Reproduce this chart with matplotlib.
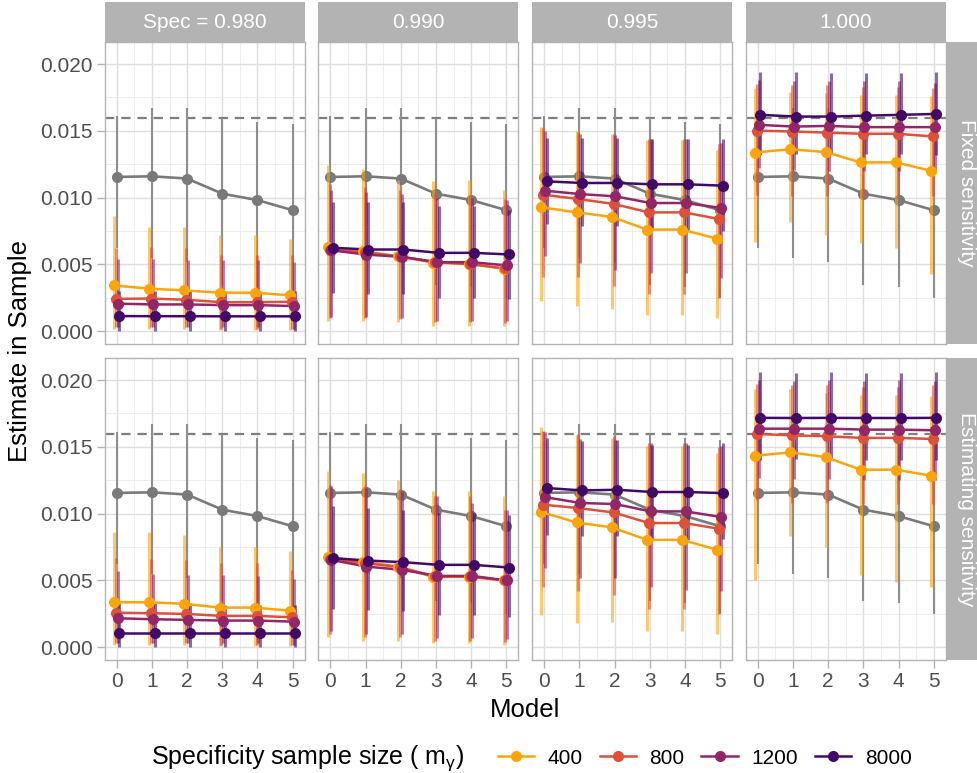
import matplotlib
matplotlib.use("Agg")
import matplotlib.pyplot as plt
from matplotlib.lines import Line2D
from matplotlib.ticker import MultipleLocator, FormatStrFormatter
import numpy as np

plt.rcParams['font.family'] = ['Liberation Sans', 'DejaVu Sans']
plt.rcParams['mathtext.fontset'] = 'custom'
plt.rcParams['mathtext.rm'] = 'Liberation Sans'
plt.rcParams['mathtext.it'] = 'Liberation Sans:italic'
plt.rcParams['mathtext.sf'] = 'Liberation Sans'

# ---------------------------------------------------------------- data
models = [0, 1, 2, 3, 4, 5]
sample_sizes = ['400', '800', '1200', '8000']
spec_labels = ['Spec = 0.980', '0.990', '0.995', '1.000']
row_labels = ['Fixed sensitivity', 'Estimating sensitivity']
target_prevalence = 0.016

# reference estimate (same in every panel)
ref_est = [0.01155, 0.01160, 0.01143, 0.01030, 0.00982, 0.00906]
ref_lo = [0.0062, 0.0055, 0.0052, 0.0035, 0.0033, 0.0025]
ref_hi = [0.0161, 0.0167, 0.0167, 0.0160, 0.0157, 0.0155]

# rows: sample size 400, 800, 1200, 8000 ; columns: model 0..5
# --- fixed sensitivity
est_fixed_0980 = [[0.00343, 0.00319, 0.00306, 0.00289, 0.00289, 0.00269],
                  [0.00243, 0.00245, 0.00236, 0.00218, 0.00218, 0.00221],
                  [0.00207, 0.00201, 0.00201, 0.00196, 0.00196, 0.00189],
                  [0.00114, 0.00113, 0.00113, 0.00112, 0.00112, 0.00112]]
lo_fixed_0980 = [[0.0002, 0.0002, 0.0002, 0.0001, 0.0001, 0.0001],
                 [0.0003, 0.0003, 0.0003, 0.0002, 0.0002, 0.0002],
                 [0.0003, 0.0003, 0.0003, 0.0003, 0.0003, 0.0002],
                 [0.0000, 0.0000, 0.0000, 0.0000, 0.0000, 0.0000]]
hi_fixed_0980 = [[0.0086, 0.0078, 0.0078, 0.0072, 0.0072, 0.0069],
                 [0.0062, 0.0063, 0.0062, 0.0057, 0.0057, 0.0057],
                 [0.0054, 0.0054, 0.0053, 0.0053, 0.0053, 0.0052],
                 [0.0030, 0.0030, 0.0030, 0.0030, 0.0030, 0.0030]]

est_fixed_0990 = [[0.00632, 0.00600, 0.00562, 0.00513, 0.00507, 0.00468],
                  [0.00612, 0.00590, 0.00560, 0.00518, 0.00502, 0.00470],
                  [0.00606, 0.00574, 0.00557, 0.00517, 0.00517, 0.00493],
                  [0.00625, 0.00612, 0.00612, 0.00587, 0.00587, 0.00575]]
lo_fixed_0990 = [[0.0008, 0.0008, 0.0007, 0.0004, 0.0004, 0.0004],
                 [0.0010, 0.0010, 0.0009, 0.0007, 0.0007, 0.0006],
                 [0.0011, 0.0011, 0.0010, 0.0008, 0.0008, 0.0008],
                 [0.0029, 0.0028, 0.0028, 0.0025, 0.0025, 0.0024]]
hi_fixed_0990 = [[0.01246, 0.01214, 0.01134, 0.01122, 0.01129, 0.01060],
                 [0.0110, 0.0108, 0.0106, 0.0103, 0.0102, 0.0099],
                 [0.0106, 0.0104, 0.0103, 0.0100, 0.0100, 0.0098],
                 [0.0097, 0.0097, 0.0097, 0.0094, 0.0094, 0.0091]]

est_fixed_0995 = [[0.00928, 0.00890, 0.00856, 0.00761, 0.00761, 0.00692],
                  [0.01022, 0.00990, 0.00953, 0.00890, 0.00890, 0.00840],
                  [0.01052, 0.01027, 0.01010, 0.00960, 0.00960, 0.00923],
                  [0.01122, 0.01110, 0.01110, 0.01100, 0.01100, 0.01090]]
lo_fixed_0995 = [[0.00226, 0.00189, 0.00169, 0.00119, 0.00119, 0.00102],
                 [0.0041, 0.0041, 0.0034, 0.0028, 0.0028, 0.0025],
                 [0.0056, 0.0051, 0.0046, 0.0044, 0.0044, 0.0040],
                 [0.0080, 0.0079, 0.0079, 0.0076, 0.0076, 0.0075]]
hi_fixed_0995 = [[0.01528, 0.01502, 0.01478, 0.01428, 0.01428, 0.01358],
                 [0.0152, 0.0149, 0.0148, 0.0144, 0.0144, 0.0140],
                 [0.0150, 0.0148, 0.0147, 0.0144, 0.0144, 0.0141],
                 [0.01445, 0.01445, 0.01445, 0.0144, 0.0144, 0.0144]]

est_fixed_1000 = [[0.01338, 0.01363, 0.01341, 0.01264, 0.01264, 0.01201],
                  [0.01502, 0.01495, 0.01487, 0.01478, 0.01478, 0.01458],
                  [0.01545, 0.01532, 0.01537, 0.01528, 0.01528, 0.01528],
                  [0.01620, 0.01607, 0.01607, 0.01614, 0.01620, 0.01627]]
lo_fixed_1000 = [[0.0067, 0.0082, 0.0072, 0.0066, 0.0062, 0.0043],
                 [0.0102, 0.0101, 0.0101, 0.0100, 0.0100, 0.0101],
                 [0.0122, 0.0121, 0.0120, 0.0120, 0.0120, 0.0120],
                 [0.0132, 0.0133, 0.0133, 0.0133, 0.0133, 0.0132]]
hi_fixed_1000 = [[0.0182, 0.0179, 0.0178, 0.0177, 0.0177, 0.0176],
                 [0.0185, 0.0184, 0.0184, 0.0183, 0.0183, 0.0182],
                 [0.0188, 0.0187, 0.0187, 0.0187, 0.0187, 0.0186],
                 [0.0194, 0.0194, 0.0193, 0.0193, 0.0193, 0.0194]]

# --- estimating sensitivity
est_estim_0980 = [[0.00337, 0.00337, 0.00325, 0.00297, 0.00297, 0.00274],
                  [0.00259, 0.00255, 0.00250, 0.00235, 0.00235, 0.00225],
                  [0.00217, 0.00210, 0.00205, 0.00200, 0.00200, 0.00192],
                  [0.00110, 0.00110, 0.00110, 0.00110, 0.00110, 0.00110]]
lo_estim_0980 = [[0.0002, 0.0002, 0.0002, 0.0001, 0.0001, 0.0001],
                 [0.0003, 0.0003, 0.0003, 0.0002, 0.0002, 0.0002],
                 [0.0003, 0.0003, 0.0003, 0.0003, 0.0003, 0.0002],
                 [0.0000, 0.0000, 0.0000, 0.0000, 0.0000, 0.0000]]
hi_estim_0980 = [[0.0086, 0.0086, 0.0084, 0.0075, 0.0075, 0.0072],
                 [0.0067, 0.0066, 0.0065, 0.0063, 0.0063, 0.0058],
                 [0.0057, 0.0055, 0.0054, 0.0054, 0.0053, 0.0051],
                 [0.0033, 0.0033, 0.0033, 0.0032, 0.0032, 0.0032]]

est_estim_0990 = [[0.00675, 0.00642, 0.00604, 0.00525, 0.00529, 0.00500],
                  [0.00660, 0.00630, 0.00600, 0.00530, 0.00530, 0.00500],
                  [0.00654, 0.00604, 0.00580, 0.00534, 0.00534, 0.00500],
                  [0.00667, 0.00649, 0.00637, 0.00617, 0.00617, 0.00597]]
lo_estim_0990 = [[0.0008, 0.0005, 0.0005, 0.0003, 0.0003, 0.0002],
                 [0.0010, 0.0008, 0.0008, 0.0005, 0.0005, 0.0004],
                 [0.0012, 0.0010, 0.0010, 0.0007, 0.0007, 0.0006],
                 [0.0029, 0.0028, 0.0027, 0.0024, 0.0024, 0.0023]]
hi_estim_0990 = [[0.01316, 0.01304, 0.01254, 0.01166, 0.01166, 0.01134],
                 [0.01217, 0.01204, 0.01184, 0.01129, 0.01129, 0.01030],
                 [0.0121, 0.0119, 0.0117, 0.0113, 0.0108, 0.0103],
                 [0.01054, 0.01042, 0.01024, 0.01004, 0.01004, 0.00992]]

est_estim_0995 = [[0.01012, 0.00934, 0.00897, 0.00804, 0.00804, 0.00729],
                  [0.01067, 0.01042, 0.01009, 0.00930, 0.00930, 0.00887],
                  [0.01124, 0.01080, 0.01072, 0.01017, 0.01017, 0.00975],
                  [0.01192, 0.01174, 0.01179, 0.01162, 0.01162, 0.01154]]
lo_estim_0995 = [[0.0024, 0.0018, 0.0019, 0.0012, 0.0012, 0.0010],
                 [0.0045, 0.0042, 0.0039, 0.0029, 0.0029, 0.0025],
                 [0.0059, 0.0052, 0.0052, 0.0045, 0.0043, 0.0042],
                 [0.0084, 0.0083, 0.0083, 0.0080, 0.0080, 0.0081]]
hi_estim_0995 = [[0.01649, 0.01591, 0.01567, 0.01504, 0.01504, 0.01454],
                 [0.01616, 0.01600, 0.01579, 0.01529, 0.01529, 0.01499],
                 [0.0161, 0.0156, 0.0155, 0.0153, 0.0153, 0.0151],
                 [0.01567, 0.01541, 0.01554, 0.01517, 0.01517, 0.01530]]

est_estim_1000 = [[0.01434, 0.01459, 0.01424, 0.01329, 0.01329, 0.01284],
                  [0.01597, 0.01586, 0.01579, 0.01567, 0.01567, 0.01559],
                  [0.01636, 0.01636, 0.01636, 0.01629, 0.01629, 0.01624],
                  [0.01717, 0.01716, 0.01717, 0.01716, 0.01716, 0.01717]]
lo_estim_1000 = [[0.0050, 0.0083, 0.0075, 0.0054, 0.0049, 0.0045],
                 [0.0110, 0.0108, 0.0108, 0.0107, 0.0107, 0.0107],
                 [0.0127, 0.0126, 0.0126, 0.0125, 0.0125, 0.0125],
                 [0.0140, 0.0141, 0.0140, 0.0140, 0.0140, 0.0140]]
hi_estim_1000 = [[0.0193, 0.0193, 0.0190, 0.0189, 0.0189, 0.0188],
                 [0.0197, 0.0196, 0.0196, 0.0195, 0.0195, 0.0196],
                 [0.0200, 0.0199, 0.0200, 0.0199, 0.0200, 0.0199],
                 [0.0206, 0.0205, 0.0206, 0.0205, 0.0205, 0.0206]]

panel_data = [
    [(est_fixed_0980, lo_fixed_0980, hi_fixed_0980),
     (est_fixed_0990, lo_fixed_0990, hi_fixed_0990),
     (est_fixed_0995, lo_fixed_0995, hi_fixed_0995),
     (est_fixed_1000, lo_fixed_1000, hi_fixed_1000)],
    [(est_estim_0980, lo_estim_0980, hi_estim_0980),
     (est_estim_0990, lo_estim_0990, hi_estim_0990),
     (est_estim_0995, lo_estim_0995, hi_estim_0995),
     (est_estim_1000, lo_estim_1000, hi_estim_1000)],
]

# ---------------------------------------------------------------- style
size_colors = ['#FCA50A', '#DD513A', '#932667', '#420A68']
ref_line_color = '#7A7A7A'
ref_bar_color = '#8E8E8E'
strip_color = '#B3B3B3'
grid_major = '#DEDEDE'
grid_minor = '#EAEAEA'
tick_text = '#4D4D4D'
dodge_width = 0.2
point_size = 8

W, H = 977, 773
fig = plt.figure(figsize=(W / 100, H / 100), dpi=100)


def rect(x0, y0, w, h):
    return [x0 / W, 1 - (y0 + h) / H, w / W, h / H]


col_x = [104.7, 318.4, 532.1, 745.8]
row_y = [42, 358]
pw, ph = 200, 302

x = np.array(models, dtype=float)
offsets = (np.arange(len(sample_sizes)) - (len(sample_sizes) - 1) / 2) * dodge_width / 4

for r in range(2):
    for c in range(4):
        ax = fig.add_axes(rect(col_x[c], row_y[r], pw, ph))
        ax.set_xlim(-0.342, 5.342)
        ax.set_ylim(-0.00095, 0.02165)
        ax.xaxis.set_major_locator(MultipleLocator(1))
        ax.xaxis.set_minor_locator(MultipleLocator(0.5))
        ax.yaxis.set_major_locator(MultipleLocator(0.005))
        ax.yaxis.set_minor_locator(MultipleLocator(0.0025))
        ax.yaxis.set_major_formatter(FormatStrFormatter('%.3f'))
        ax.set_axisbelow(True)
        ax.grid(which='major', color=grid_major, lw=1.0)
        ax.grid(which='minor', color=grid_minor, lw=0.6)
        for s in ax.spines.values():
            s.set_color(strip_color)
            s.set_linewidth(1.0)
        ax.tick_params(which='minor', length=0)
        ax.tick_params(which='major', length=5.5, width=1.0, color=strip_color,
                       labelsize=15, labelcolor=tick_text, pad=3)
        if r == 0:
            ax.tick_params(axis='x', length=0, labelbottom=False)
        if c > 0:
            ax.tick_params(axis='y', length=0, labelleft=False)

        ax.axhline(target_prevalence, color='#7F7F7F', lw=1.6,
                   ls=(0, (4.2, 3.1)), zorder=2)

        # reference estimate
        ax.vlines(x, ref_lo, ref_hi, color=ref_bar_color, lw=1.5, zorder=3)
        ax.plot(x, ref_est, color=ref_line_color, lw=1.9, marker='o',
                ms=point_size, mec='none', zorder=4)

        est, lo, hi = panel_data[r][c]
        for i, col in enumerate(size_colors):
            ax.vlines(x + offsets[i], lo[i], hi[i], color=col, lw=2.2,
                      alpha=0.6, zorder=5)
        for i, col in enumerate(size_colors):
            ax.plot(x + offsets[i], est[i], color=col, lw=1.8, zorder=6)
        for i, col in enumerate(size_colors):
            ax.plot(x + offsets[i], est[i], ls='none', marker='o',
                    ms=point_size, color=col, mec='none', zorder=7)

# column strips
for c in range(4):
    sax = fig.add_axes(rect(col_x[c], 2, pw, 40))
    sax.set_facecolor(strip_color)
    sax.set_xticks([]); sax.set_yticks([])
    for s in sax.spines.values():
        s.set_visible(False)
    sax.text(0.5, 0.5, spec_labels[c], color='white', fontsize=15,
             ha='center', va='center', transform=sax.transAxes)

# row strips
for r in range(2):
    sax = fig.add_axes(rect(946.7, row_y[r], 40, ph))
    sax.set_facecolor(strip_color)
    sax.set_xticks([]); sax.set_yticks([])
    for s in sax.spines.values():
        s.set_visible(False)
    sax.text(0.5, 0.5, row_labels[r], color='white', fontsize=15,
             ha='center', va='center', rotation=-90, transform=sax.transAxes)

# axis titles
fig.text(525 / W, 1 - 710 / H, 'Model', ha='center', va='center', fontsize=18.5)
fig.text(20 / W, 1 - 351 / H, 'Estimate in Sample', ha='center', va='center',
         rotation=90, fontsize=18.5)

# legend
fig.text(151 / W, 1 - 758 / H, r'Specificity sample size ( $\mathregular{m_\gamma}$)',
         ha='left', va='center', fontsize=18)
handles = [Line2D([], [], color=col, lw=1.8, marker='o', ms=point_size, mec='none')
           for col in size_colors]
fig.legend(handles, sample_sizes, loc='center left',
           bbox_to_anchor=(479 / W, 1 - 758 / H), ncol=4, frameon=False,
           fontsize=15, handlelength=1.75, handletextpad=0.65,
           columnspacing=0.8, borderpad=0.4)

fig.savefig('out.png', dpi=100)
